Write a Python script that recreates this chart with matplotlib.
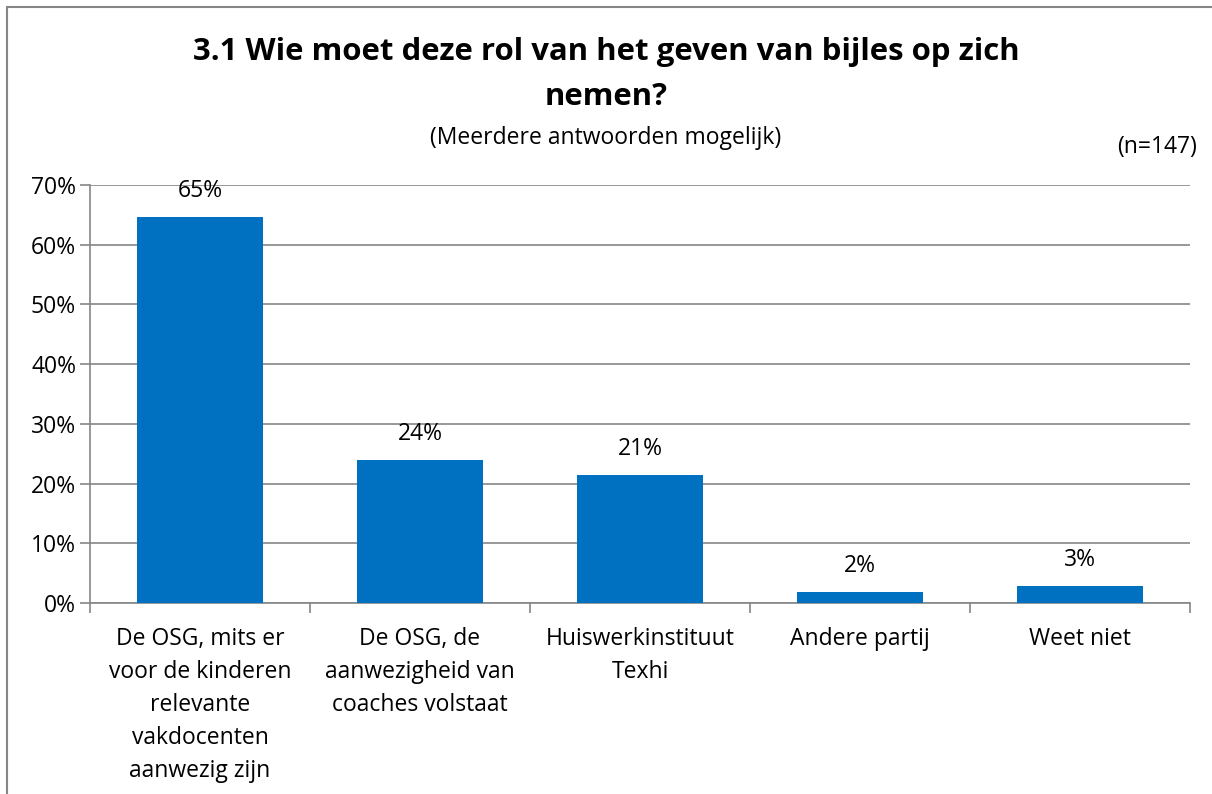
import matplotlib
matplotlib.use("Agg")
import matplotlib.pyplot as plt
import numpy as np
from matplotlib.patches import Rectangle

categories = [
    "De OSG, mits er\nvoor de kinderen\nrelevante\nvakdocenten\naanwezig zijn",
    "De OSG, de\naanwezigheid van\ncoaches volstaat",
    "Huiswerkinstituut\nTexhi",
    "Andere partij",
    "Weet niet",
]
values = [64.7, 23.9, 21.4, 1.8, 2.8]
value_labels = ["65%", "24%", "21%", "2%", "3%"]
yticks = [0, 10, 20, 30, 40, 50, 60, 70]
ytick_labels = ["0%", "10%", "20%", "30%", "40%", "50%", "60%", "70%"]

plt.rcParams['font.family'] = ['Open Sans', 'DejaVu Sans']

fig = plt.figure(figsize=(12.12, 7.94), dpi=100)
W, H = 1212, 794
ax = fig.add_axes([90 / W, 1 - 603 / H, 1100 / W, (603 - 185) / H])

FS = 16.5
x = np.arange(len(categories))
ax.bar(x, values, width=0.575, color="#0070C0", zorder=3)
ax.set_xlim(-0.5, len(categories) - 0.5)
ax.set_ylim(0, 70)

grey = "#868686"
ax.set_yticks(yticks)
ax.set_yticklabels(ytick_labels, fontsize=FS)
ax.yaxis.grid(True, color=grey, linewidth=1.2, zorder=0)
ax.set_xticks(x)
ax.set_xticklabels(categories, fontsize=FS, linespacing=1.5, va="top")
ax.tick_params(axis="x", length=0, pad=17)
ax.set_xticks(np.arange(-0.5, len(categories)), minor=True)
ax.tick_params(axis="x", which="minor", length=7, color=grey, width=1.2)
ax.tick_params(axis="y", length=7, color=grey, width=1.2, pad=3)

for s in ["top", "right"]:
    ax.spines[s].set_visible(False)
for s in ["left", "bottom"]:
    ax.spines[s].set_color(grey)
    ax.spines[s].set_linewidth(1.2)

for xi, v, lab in zip(x, values, value_labels):
    ax.annotate(lab, (xi, v), xytext=(0, 10), textcoords="offset points",
                ha="center", va="bottom", fontsize=FS)

fig.text(0.5, 1 - 52 / H, "3.1 Wie moet deze rol van het geven van bijles op zich", ha="center", va="center",
         fontsize=22.4, fontweight="bold")
fig.text(0.5, 1 - 97 / H, "nemen?", ha="center", va="center", fontsize=22.4, fontweight="bold")
fig.text(0.5, 1 - 138 / H, "(Meerdere antwoorden mogelijk)", ha="center", va="center", fontsize=FS)
fig.text(1197 / W, 1 - 147 / H, "(n=147)", ha="right", va="center", fontsize=FS)

fig.patches.append(Rectangle((7 / W, -0.01), 1.5, 1 - 7 / H + 0.01, transform=fig.transFigure,
                             fill=False, edgecolor=grey, linewidth=1.5))

fig.savefig("out.png", dpi=100)
